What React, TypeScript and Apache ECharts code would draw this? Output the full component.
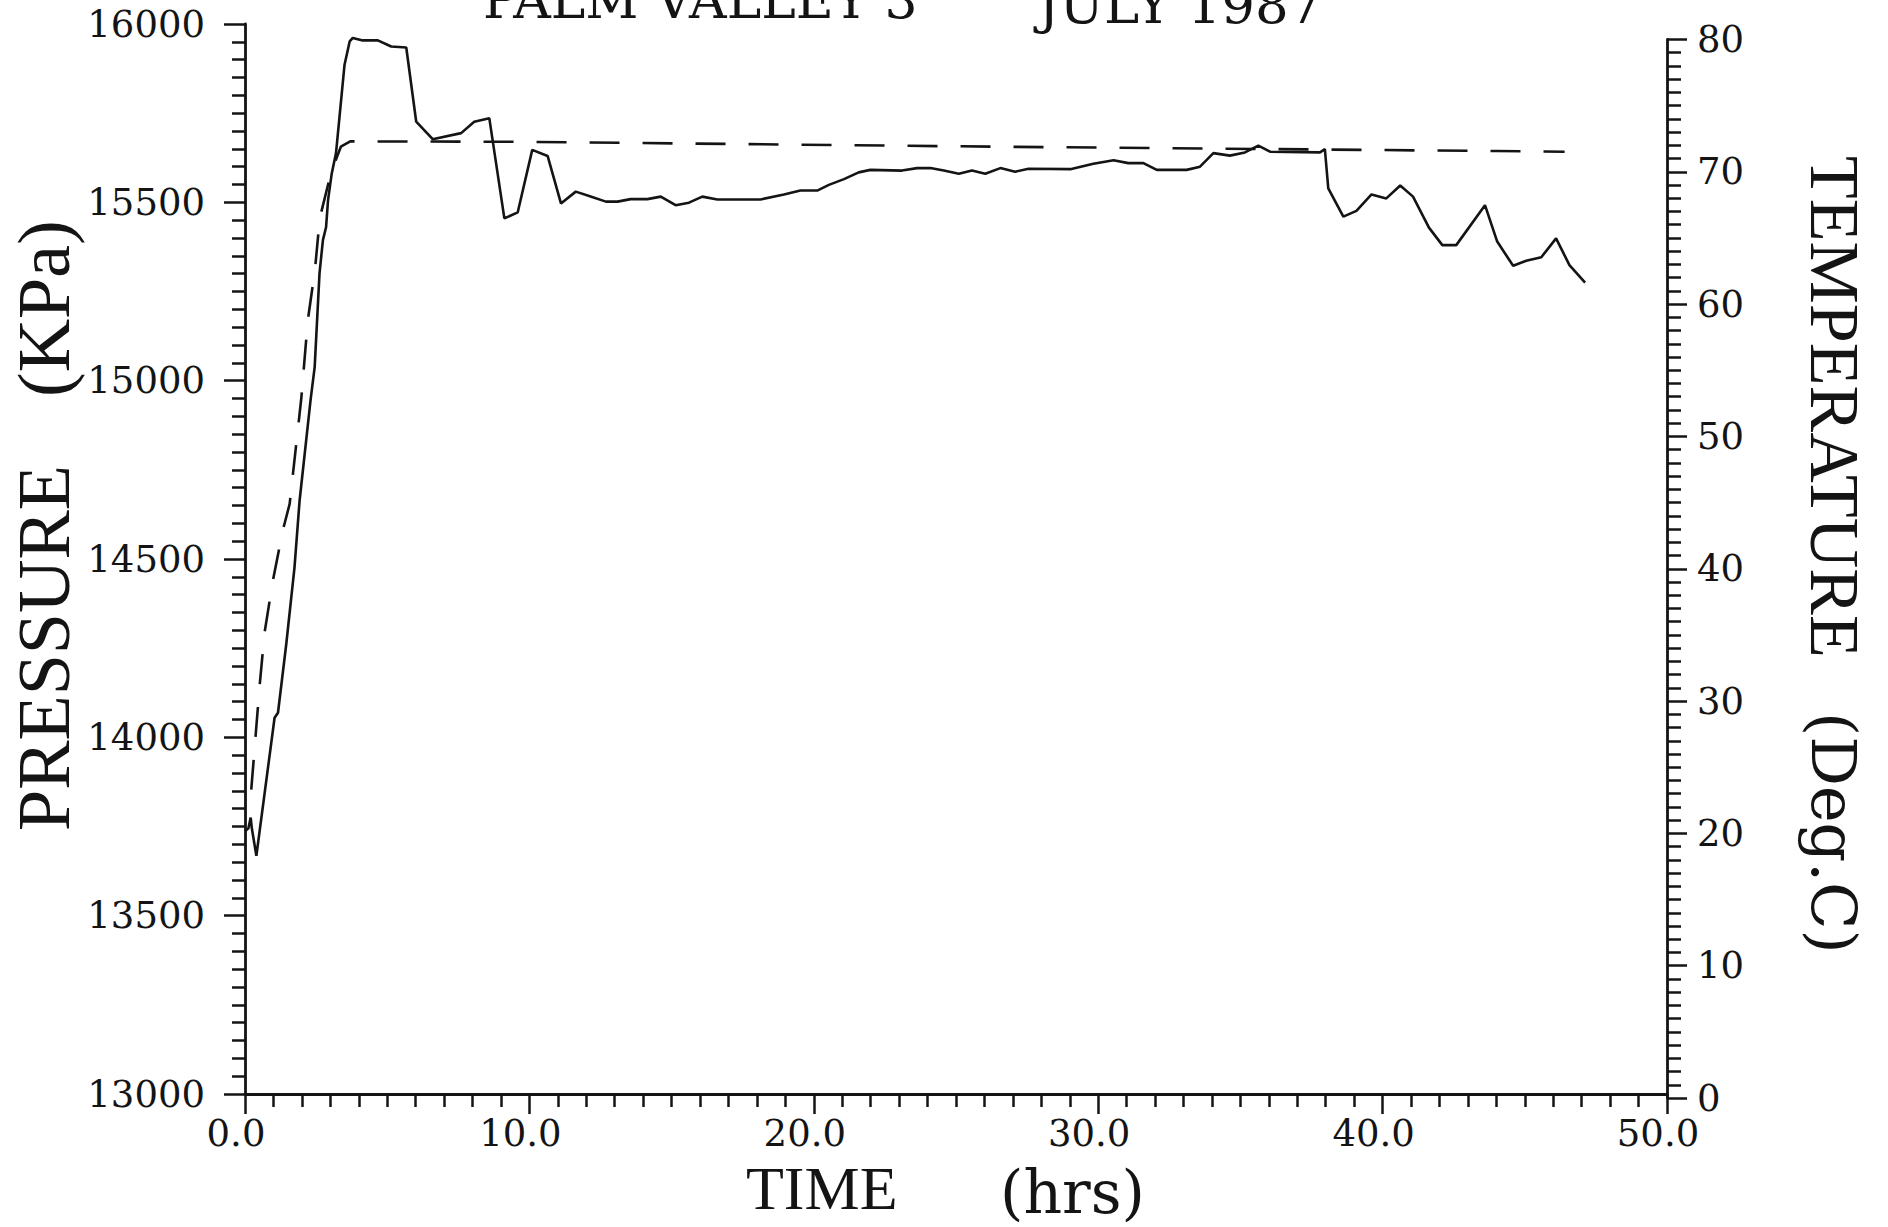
import React, { useEffect, useRef } from "react";
import * as echarts from "echarts";

// ---- data ----
const timeP = [0, 0.12, 0.2, 0.24, 0.4, 1.04, 1.16, 1.45, 1.74, 1.92, 2.31, 2.45, 2.62, 2.74, 2.85, 2.92, 3.05, 3.2, 3.5, 3.68, 3.79, 4.14, 4.67, 5.14, 5.67, 6.02, 6.6, 7.6, 8.06, 8.59, 9.12, 9.59, 10.1, 10.64, 11.11, 11.63, 12.1, 12.69, 13.1, 13.56, 14.15, 14.62, 15.14, 15.61, 16.08, 16.61, 18.13, 18.95, 19.53, 20.12, 20.53, 21.06, 21.58, 21.99, 23.1, 23.63, 24.1, 24.57, 25.1, 25.56, 26.03, 26.56, 27.08, 27.55, 29.02, 29.83, 30.54, 31.06, 31.59, 32.06, 33.11, 33.58, 34.05, 34.63, 35.16, 35.63, 36.04, 37.8, 37.97, 38.09, 38.62, 39.08, 39.61, 40.13, 40.62, 41.07, 41.63, 42.1, 42.59, 43.6, 44.03, 44.59, 45.05, 45.58, 46.1, 46.57, 47.12];
const pressure = [13737, 13745, 13775, 13745, 13668, 14055, 14069, 14261, 14476, 14664, 14949, 15038, 15301, 15394, 15430, 15506, 15581, 15638, 15886, 15951, 15961, 15954, 15954, 15937, 15934, 15726, 15677, 15694, 15726, 15736, 15455, 15472, 15647, 15630, 15497, 15530, 15518, 15502, 15502, 15509, 15509, 15516, 15492, 15499, 15516, 15508, 15508, 15522, 15533, 15533, 15549, 15565, 15584, 15591, 15589, 15596, 15596, 15589, 15580, 15589, 15580, 15596, 15586, 15594, 15593, 15608, 15618, 15610, 15610, 15591, 15591, 15600, 15638, 15631, 15640, 15659, 15642, 15640, 15649, 15539, 15460, 15476, 15522, 15511, 15547, 15516, 15429, 15380, 15380, 15492, 15390, 15322, 15336, 15346, 15399, 15324, 15275];

const timeT = [0.22, 0.52, 0.69, 0.98, 1.33, 1.57, 1.98, 2.21, 2.46, 2.63, 3.02, 3.37, 3.7, 9.6, 26.4, 44.0, 46.4];
const temperature = [23.3, 31.3, 35.2, 39.1, 42.9, 44.9, 52.9, 58.8, 62.6, 66.5, 69.9, 71.9, 72.3, 72.27, 71.9, 71.57, 71.52];

const timeTicks = ["0.0", "10.0", "20.0", "30.0", "40.0", "50.0"];
const pressureTicks = ["13000", "13500", "14000", "14500", "15000", "15500", "16000"];
const tempTicks = ["0", "10", "20", "30", "40", "50", "60", "70", "80"];

const titleLeft = "PALM VALLEY 3";
const titleRight = "JULY 1987";
const xName = ["TIME", "(hrs)"];
const yLeftName = ["PRESSURE", "(KPa)"];
const yRightName = ["TEMPERATURE", "(Deg.C)"];

const INK = "#141414";
const SERIF = "'Liberation Serif', 'DejaVu Serif', serif";
const WIDE = "'DejaVu Serif', 'Liberation Serif', serif";

export default function App() {
  const ref = useRef<HTMLDivElement>(null);

  useEffect(() => {
    if (!ref.current) return;
    const chart = echarts.init(ref.current, undefined, { renderer: "svg" });

    const axisSt = { color: INK, width: 2.8 };
    const tickSt = { color: INK, width: 2.5 };

    const option: any = {
      animation: false,
      backgroundColor: "#ffffff",
      grid: [
        { left: 245, right: 221, top: 24, bottom: 133, containLabel: false },
        { left: 245, right: 221, top: 39.5, bottom: 129, containLabel: false },
      ],
      xAxis: [
        {
          type: "value",
          gridIndex: 0,
          min: 0,
          max: 50,
          interval: 10,
          axisLine: { show: true, onZero: false, lineStyle: axisSt },
          splitLine: { show: false },
          axisTick: { show: true, length: 20, lineStyle: tickSt },
          minorTick: { show: true, splitNumber: 10, length: 13, lineStyle: tickSt },
          axisLabel: {
            margin: 22,
            color: INK,
            fontFamily: WIDE,
            fontSize: 37,
            lineHeight: 34,
            padding: [0, 18, 0, 0],
            formatter: (v: number) => timeTicks[Math.round(v / 10)] ?? "",
          },
        },
        {
          type: "value",
          gridIndex: 1,
          min: 0,
          max: 50,
          show: false,
          axisLine: { show: false, onZero: false },
        },
      ],
      yAxis: [
        {
          type: "value",
          gridIndex: 0,
          position: "left",
          min: 13000,
          max: 16000,
          interval: 500,
          axisLine: { show: true, onZero: false, lineStyle: axisSt },
          splitLine: { show: false },
          axisTick: { show: true, length: 21, lineStyle: tickSt },
          minorTick: { show: true, splitNumber: 10, length: 13, lineStyle: tickSt },
          axisLabel: {
            margin: 40,
            color: INK,
            fontFamily: WIDE,
            fontSize: 37,
            formatter: (v: number) => pressureTicks[Math.round((v - 13000) / 500)] ?? "",
          },
        },
        {
          type: "value",
          gridIndex: 1,
          position: "right",
          min: 0,
          max: 80,
          interval: 10,
          axisLine: { show: true, onZero: false, lineStyle: axisSt },
          splitLine: { show: false },
          axisTick: { show: true, length: 20, lineStyle: tickSt },
          minorTick: { show: true, splitNumber: 10, length: 14, lineStyle: tickSt },
          axisLabel: {
            margin: 30,
            color: INK,
            fontFamily: WIDE,
            fontSize: 37,
            formatter: (v: number) => tempTicks[Math.round(v / 10)] ?? "",
          },
        },
      ],
      series: [
        {
          name: "Pressure",
          type: "line",
          xAxisIndex: 0,
          yAxisIndex: 0,
          data: timeP.map((t, i) => [t, pressure[i]]),
          showSymbol: false,
          symbol: "none",
          lineStyle: { color: INK, width: 2.6 },
          z: 3,
        },
        {
          name: "Temperature",
          type: "line",
          xAxisIndex: 1,
          yAxisIndex: 1,
          data: timeT.map((t, i) => [t, temperature[i]]),
          showSymbol: false,
          symbol: "none",
          lineStyle: { color: INK, width: 2.6, type: [30, 23] },
          z: 3,
        },
      ],
      graphic: [
        {
          type: "text",
          x: 483,
          y: 0,
          style: { text: titleLeft, fill: INK, font: `52px ${WIDE}`, align: "left", verticalAlign: "middle" },
        },
        {
          type: "text",
          x: 1038,
          y: 4,
          style: { text: titleRight, fill: INK, font: `53px ${WIDE}`, align: "left", verticalAlign: "middle" },
        },
        {
          type: "text",
          x: 746,
          y: 1188,
          style: { text: xName[0], fill: INK, font: `62px ${SERIF}`, lineHeight: 56, align: "left", verticalAlign: "middle" },
        },
        {
          type: "text",
          x: 1000,
          y: 1192,
          style: { text: xName[1], fill: INK, font: `60px ${WIDE}`, lineHeight: 56, align: "left", verticalAlign: "middle" },
        },
        {
          type: "text",
          x: 44,
          y: 831,
          rotation: Math.PI / 2,
          style: { text: yLeftName[0], fill: INK, font: `74px ${SERIF}`, align: "left", verticalAlign: "middle" },
        },
        {
          type: "text",
          x: 44,
          y: 397,
          rotation: Math.PI / 2,
          style: { text: yLeftName[1], fill: INK, font: `74px ${SERIF}`, align: "left", verticalAlign: "middle" },
        },
        {
          type: "text",
          x: 1834,
          y: 156,
          rotation: -Math.PI / 2,
          style: { text: yRightName[0], fill: INK, font: `70px ${SERIF}`, align: "left", verticalAlign: "middle" },
        },
        {
          type: "text",
          x: 1833,
          y: 712,
          rotation: -Math.PI / 2,
          style: { text: yRightName[1], fill: INK, font: `62px ${WIDE}`, align: "left", verticalAlign: "middle" },
        },
      ],
    };

    chart.setOption(option);
    return () => chart.dispose();
  }, []);

  return (
    <div
      ref={ref}
      style={{ position: "fixed", left: 0, top: 0, width: 1888, height: 1227, background: "#fff" }}
    />
  );
}
